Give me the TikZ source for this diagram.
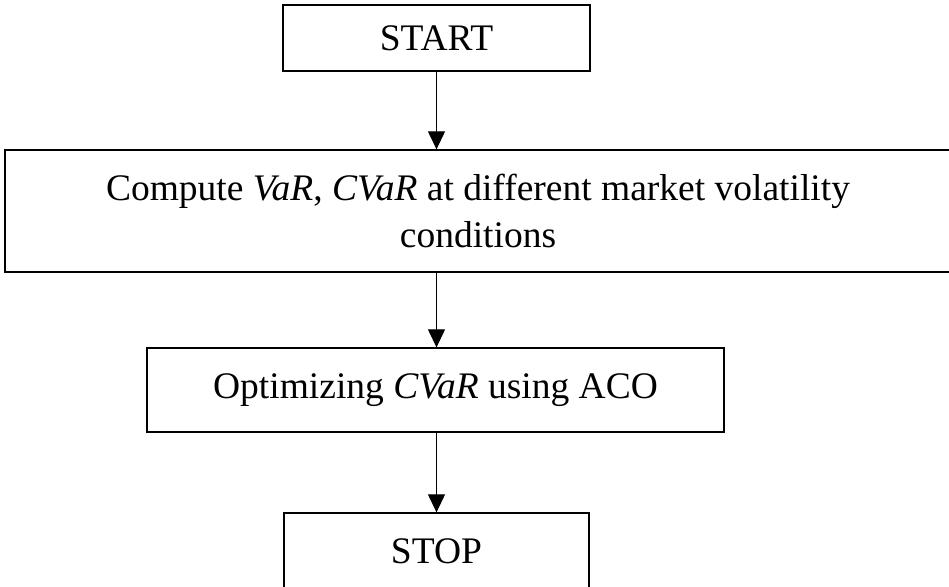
\documentclass[tikz,border=0pt]{standalone}
\usepackage{fontspec}
\setmainfont{Liberation Serif}
\usetikzlibrary{arrows.meta}
\begin{document}
\begin{tikzpicture}[x=1pt,y=1pt,
  box/.style={draw, line width=1.3pt, inner sep=0pt, font=\fontsize{37.5}{47}\selectfont, align=center},
  flow/.style={draw, line width=1.1pt, -{Triangle[width=17pt,length=18pt]}}]
\useasboundingbox (0,0) rectangle (949,-586);
\node[box, minimum width=307, minimum height=66] (start) at (436.5,-38) {START};
\node[box, minimum width=946, minimum height=122] (comp) at (478,-211) {Compute \textit{VaR}, \textit{CVaR} at different market volatility\\conditions};
\node[box, minimum width=577, minimum height=84] (opt) at (435.5,-390) {Optimizing \textit{CVaR} using ACO};
\node[box, minimum width=305, minimum height=84] (stop) at (436.5,-555) {\raisebox{8pt}{STOP}};
\draw[flow] (start.south) -- (start.south |- comp.north);
\draw[flow] (start.south |- comp.south) -- (start.south |- opt.north);
\draw[flow] (start.south |- opt.south) -- (stop.north);
\end{tikzpicture}
\end{document}
